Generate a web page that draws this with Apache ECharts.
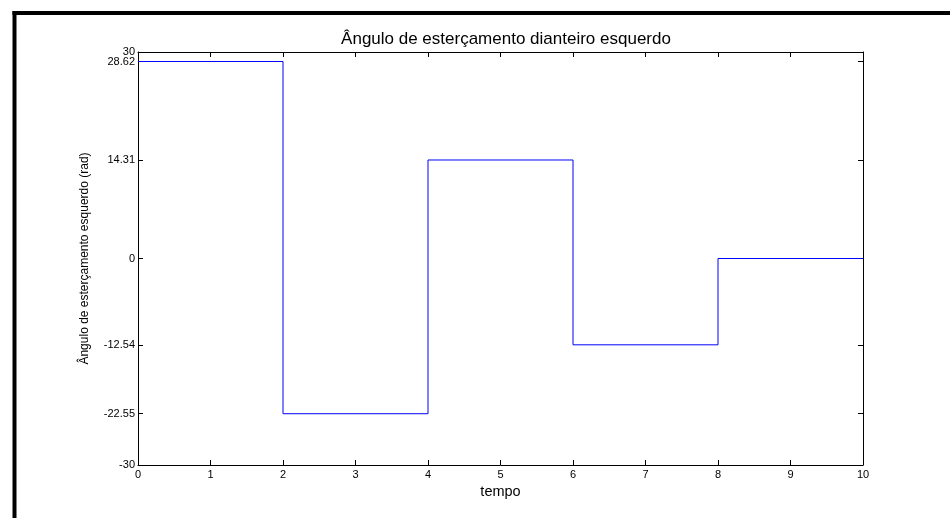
<!DOCTYPE html>
<html><head><meta charset="utf-8">
<script src="https://cdn.jsdelivr.net/npm/echarts@6/dist/echarts.min.js"></script>
<style>html,body{margin:0;padding:0;background:#fff}#c{width:950px;height:518px}</style>
</head><body><div id="c"></div>
<script>
var times = [0, 2, 4, 6, 8, 10];
var angles = [28.62, -22.55, 14.31, -12.54, 0, 0];
var yTicks = [-30, -22.55, -12.54, 0, 14.31, 28.62, 30];
var yTicksLower = [-30, -22.55, -12.54, 0, 14.31, 28.62];
var yTicksTop = [30];
var xTicks = [0, 1, 2, 3, 4, 5, 6, 7, 8, 9, 10];
var titleText = 'Ângulo de esterçamento dianteiro esquerdo';
var xName = 'tempo';
var yName = 'Ângulo de esterçamento esquerdo (rad)';

var chart = echarts.init(document.getElementById('c'));
var font = 'Liberation Sans, Arial, sans-serif';
var points = times.map(function (t, i) { return [t, angles[i]]; });
var axLine = { show: true, onZero: false, lineStyle: { color: '#000', width: 1 } };
var yLabelBase = { fontFamily: font, fontSize: 11, color: '#000', margin: 3,
  showMinLabel: true, showMaxLabel: true, hideOverlap: false,
  formatter: function (v) { return String(v); } };
chart.setOption({
  animation: false,
  backgroundColor: '#fff',
  title: { text: titleText, left: 501, top: 26, textAlign: 'center',
    textStyle: { fontFamily: font, fontSize: 17, fontWeight: 'normal', color: '#000' } },
  grid: { left: 138, right: 87, top: 52, bottom: 53, containLabel: false },
  xAxis: [{
    type: 'value', min: 0, max: 10, interval: 1, position: 'bottom',
    axisLine: axLine,
    axisTick: { show: true, inside: true, length: 5, customValues: xTicks, lineStyle: { color: '#000' } },
    axisLabel: { fontFamily: font, fontSize: 11, color: '#000', margin: 4, customValues: xTicks,
      showMinLabel: true, showMaxLabel: true },
    splitLine: { show: false },
    name: xName, nameLocation: 'middle', nameGap: 18,
    nameTextStyle: { fontFamily: font, fontSize: 14.5, color: '#000' }
  }, {
    type: 'value', min: 0, max: 10, interval: 1, position: 'top',
    axisLine: axLine,
    axisTick: { show: true, inside: true, length: 5, lineStyle: { color: '#000' } },
    axisLabel: { show: false }, splitLine: { show: false }
  }],
  yAxis: [{
    type: 'value', min: -30, max: 30, position: 'left', offset: 0,
    axisLine: axLine,
    axisTick: { show: true, inside: true, length: 5, customValues: yTicks, lineStyle: { color: '#000' } },
    axisLabel: Object.assign({}, yLabelBase, { customValues: yTicksLower }),
    splitLine: { show: false },
    name: yName, nameLocation: 'middle', nameGap: 47, nameRotate: 90,
    nameTextStyle: { fontFamily: font, fontSize: 12, color: '#000' }
  }, {
    type: 'value', min: -30, max: 30, position: 'right',
    axisLine: axLine,
    axisTick: { show: true, inside: true, length: 5, customValues: yTicks, lineStyle: { color: '#000' } },
    axisLabel: { show: false }, splitLine: { show: false }
  }, {
    type: 'value', min: -30, max: 30, position: 'left', offset: 0,
    axisLine: { show: false }, axisTick: { show: false },
    axisLabel: Object.assign({}, yLabelBase, { customValues: yTicksTop }),
    splitLine: { show: false }
  }],
  series: [{
    type: 'line', step: 'end', data: points, xAxisIndex: 0, yAxisIndex: 0,
    symbol: 'none', lineStyle: { color: '#0000ff', width: 1 }
  }],
  graphic: [
    { type: 'line', shape: { x1: 14.5, y1: 11, x2: 14.5, y2: 518 }, style: { stroke: '#000', lineWidth: 4 } },
    { type: 'line', shape: { x1: 12.5, y1: 13, x2: 950, y2: 13 }, style: { stroke: '#000', lineWidth: 4 } }
  ]
});
</script></body></html>
